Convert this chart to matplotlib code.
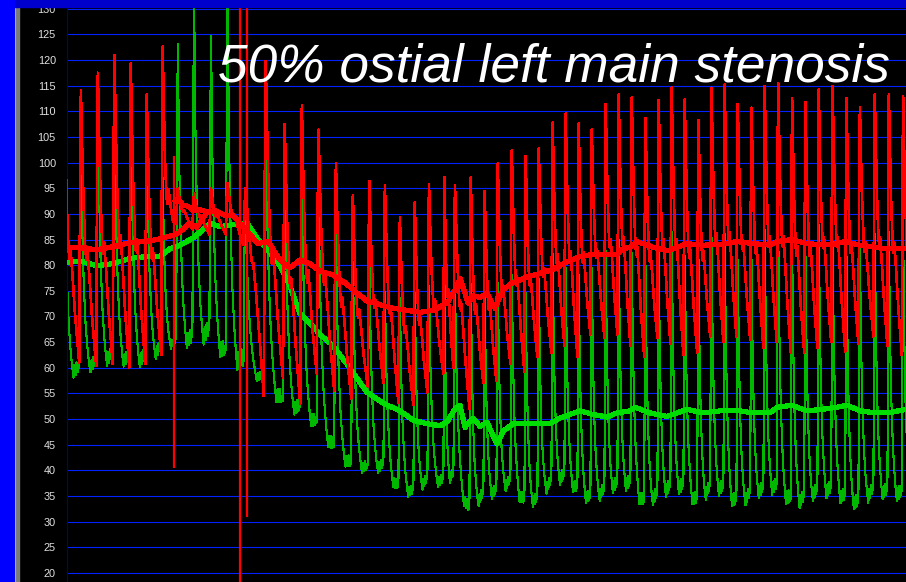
import numpy as np
import matplotlib.pyplot as plt
from matplotlib.patches import Rectangle

# systolic peak times (s) of every beat in the recording window
beat_t = [-0.15, 0.69, 1.54, 2.37, 3.19, 3.99, 4.79, 5.54, 6.35, 7.20,
          8.02, 8.90, 9.92, 10.88, 11.74, 12.57, 13.44, 14.29, 15.12, 15.90,
          16.65, 17.40, 18.10, 18.90, 19.40, 20.20, 20.90, 21.55, 22.25, 22.95,
          23.60, 24.30, 24.95, 25.60, 26.25, 26.95, 27.60, 28.25, 28.94, 29.60,
          30.25, 30.90, 31.59, 32.24, 32.90, 33.55, 34.24, 34.90, 35.57, 36.27,
          36.94, 37.60, 38.29, 38.99, 39.65, 40.40, 41.10, 41.82]

# aortic (guide) pressure, mmHg: peak per beat, trough at each beat onset (+ final trough)
aortic_sys = [115.0, 114.1, 117.5, 120.9, 119.3, 113.3, 122.6, 95.0, 94.0, 95.0,
              96.0, 95.0, 119.8, 107.5, 111.2, 106.4, 99.8, 93.7, 96.4, 95.5,
              89.3, 92.2, 95.8, 97.1, 95.5, 97.1, 94.4, 99.8, 102.4, 101.3,
              102.7, 107.8, 109.6, 107.6, 106.4, 111.4, 113.3, 112.7, 108.6, 112.2,
              114.6, 112.3, 108.2, 114.6, 115.2, 111.4, 110.7, 114.9, 115.4, 112.5,
              111.8, 114.3, 114.9, 112.5, 110.7, 113.3, 113.3, 112.9]
aortic_dia = [60.0, 61.0, 60.3, 60.7, 60.0, 60.7, 62.5, 88.0, 87.0, 86.0,
              86.0, 84.0, 54.5, 58.0, 53.0, 58.9, 55.6, 54.0, 56.3, 57.0,
              53.1, 52.7, 55.2, 58.9, 60.0, 52.0, 57.0, 57.4, 60.7, 59.2,
              62.1, 62.9, 64.3, 62.1, 66.5, 65.8, 66.5, 64.3, 62.1, 65.8,
              64.7, 62.5, 62.9, 66.1, 65.0, 66.1, 65.4, 63.9, 65.0, 62.9,
              62.9, 63.9, 65.0, 63.2, 64.7, 66.1, 64.3, 62.5, 64.0]

# distal (pressure wire) pressure, mmHg
distal_sys = [108.0, 105.0, 114.0, 110.7, 112.9, 108.2, 97.0, 123.2, 132.0, 124.7,
              132.0, 92.0, 109.3, 102.0, 98.4, 94.8, 86.4, 80.6, 81.0, 74.8,
              73.7, 74.5, 75.9, 77.0, 75.9, 76.3, 74.5, 76.6, 78.1, 74.5,
              77.4, 82.1, 79.5, 78.1, 79.5, 82.8, 85.0, 82.4, 79.9, 82.4,
              86.4, 81.7, 81.0, 85.3, 86.1, 81.0, 81.0, 86.9, 87.1, 83.9,
              81.7, 87.9, 84.6, 81.7, 83.5, 86.1, 86.4, 86.1]
distal_dia = [58.0, 58.1, 59.6, 60.7, 60.0, 60.3, 62.5, 64.3, 63.6, 65.0,
              60.7, 59.0, 56.7, 51.6, 50.5, 47.6, 42.9, 39.6, 39.3, 39.6,
              35.3, 34.6, 37.1, 36.7, 38.0, 30.6, 34.2, 34.6, 36.7, 32.4,
              33.1, 36.7, 37.5, 34.9, 33.1, 34.6, 36.0, 36.0, 32.0, 33.8,
              35.3, 35.3, 32.4, 35.3, 34.9, 32.0, 33.8, 34.9, 35.3, 32.4,
              32.8, 34.6, 34.6, 33.1, 32.0, 34.6, 34.2, 33.8, 34.0]

# mean pressures
mean_aortic_t = [0.00, 0.65, 1.50, 2.30, 3.15, 3.90, 4.50, 5.15, 5.45, 5.65,
                 6.15, 6.50, 7.00, 7.40, 7.90, 8.30, 8.65, 9.05, 9.55, 10.05,
                 10.65, 11.15, 11.65, 12.15, 12.65, 13.30, 14.00, 14.30, 15.00, 15.65,
                 16.30, 17.00, 17.65, 18.30, 19.00, 19.40, 19.65, 19.90, 20.05, 20.30,
                 20.65, 21.00, 21.40, 21.80, 22.30, 23.00, 23.65, 24.30, 25.00, 25.65,
                 26.30, 27.00, 27.50, 27.80, 28.15, 28.50, 29.30, 30.05, 31.00, 31.80,
                 32.65, 33.50, 34.30, 35.15, 35.50, 36.25, 37.00, 37.75, 38.25, 38.90,
                 39.65, 40.30, 40.90, 41.65, 41.95]
mean_aortic = [83.5, 83.4, 83.0, 83.6, 84.4, 84.6, 85.0, 85.7, 86.0, 86.5,
               88.2, 87.4, 90.4, 90.6, 89.7, 89.8, 88.2, 86.4, 84.2, 84.6,
               81.0, 79.5, 81.0, 80.3, 78.8, 78.1, 76.3, 75.2, 73.0, 72.3,
               71.6, 71.2, 70.8, 71.2, 72.6, 75.2, 77.4, 74.5, 72.6, 74.0,
               73.7, 74.5, 71.6, 75.2, 76.6, 77.7, 78.4, 79.2, 80.6, 81.7,
               82.1, 82.1, 82.1, 83.2, 83.5, 84.6, 83.5, 82.8, 84.2, 83.9,
               84.0, 84.6, 84.2, 83.9, 84.6, 85.0, 84.2, 84.0, 84.0, 84.6,
               83.9, 83.6, 83.2, 83.3, 83.2]
# second branch of the aortic mean after the flush
flush_t = [5.40, 5.55, 5.80, 6.05, 6.30, 6.65, 7.00]
flush_mean = [92.5, 93.0, 91.7, 91.5, 90.7, 90.8, 90.4]

mean_distal_t = [0.00, 0.65, 1.50, 2.30, 3.15, 4.00, 4.65, 5.15, 5.65, 6.30,
                 6.65, 7.15, 7.65, 8.30, 9.00, 9.50, 10.00, 10.65, 11.15, 11.65,
                 12.15, 12.65, 13.30, 14.00, 14.40, 15.00, 15.80, 16.65, 17.30, 18.00,
                 18.65, 19.00, 19.40, 19.65, 19.90, 20.30, 20.65, 21.00, 21.50, 21.80,
                 22.30, 23.00, 23.65, 24.15, 24.65, 25.15, 25.65, 26.30, 27.00, 27.50,
                 28.15, 28.40, 29.15, 30.00, 31.00, 31.80, 32.65, 33.50, 34.30, 35.15,
                 35.50, 36.25, 37.00, 37.75, 38.50, 39.00, 39.65, 40.40, 41.05, 41.95]
mean_distal = [80.5, 80.8, 79.9, 80.3, 81.3, 81.7, 81.7, 83.2, 83.9, 85.3,
               86.4, 88.2, 87.5, 87.9, 88.2, 85.3, 83.2, 79.9, 75.9, 70.5,
               68.7, 66.5, 64.3, 60.7, 58.5, 55.2, 53.1, 51.6, 49.8, 49.1,
               48.7, 49.4, 52.0, 52.7, 48.4, 50.2, 48.6, 49.4, 45.1, 47.6,
               49.1, 49.1, 49.1, 49.1, 50.2, 50.9, 51.6, 50.9, 50.4, 51.2,
               51.6, 52.3, 51.2, 50.5, 51.9, 51.2, 51.6, 51.7, 51.2, 51.2,
               52.3, 52.7, 51.6, 51.9, 52.3, 52.7, 51.6, 51.2, 51.2, 51.9]

# catheter flush / whip artefacts on the aortic channel
artifact_t = [5.37, 8.65, 8.99]
artifact_lo = [40.4, 18.0, 31.0]
artifact_hi = [101.3, 132.0, 132.0]

# normalised single-beat shapes (0 = trough, 1 = peak)
aortic_phase = [0.0, 0.06, 0.10, 0.17, 0.26, 0.36, 0.42, 0.48, 0.60, 0.75, 0.90, 1.0]
aortic_shape = [0.0, 0.75, 1.00, 0.80, 0.58, 0.42, 0.38, 0.42, 0.32, 0.18, 0.07, 0.0]
distal_phase = [0.0, 0.05, 0.10, 0.18, 0.27, 0.37, 0.47, 0.57, 0.66, 0.72, 0.78, 0.84, 0.90, 0.95, 1.0]
distal_shape = [0.04, 0.70, 1.00, 0.62, 0.38, 0.22, 0.12, 0.05, 0.00, 0.05, 0.01, 0.06, 0.02, 0.04, 0.04]


def pulse_trace(peaks, sys_vals, dia_vals, phase, shape):
    peaks = np.asarray(peaks)
    onsets = np.append(peaks - 0.08, peaks[-1] + 0.6)
    ph = np.asarray(phase[:-1])
    sh = np.asarray(shape[:-1])
    ts, vs = [], []
    for i in range(len(peaks)):
        base = dia_vals[i] + (dia_vals[i + 1] - dia_vals[i]) * ph
        ts.append(onsets[i] + (onsets[i + 1] - onsets[i]) * ph)
        vs.append(base + (sys_vals[i] - base) * sh)
    return np.concatenate(ts), np.concatenate(vs)


W, H = 906, 582
fig = plt.figure(figsize=(W / 100, H / 100), dpi=100, facecolor='black')
ax = fig.add_axes([67 / W, 0, 1 - 67 / W, 1])
ax.set_facecolor('black')

t_a, p_a = pulse_trace(beat_t, aortic_sys, aortic_dia, aortic_phase, aortic_shape)
t_d, p_d = pulse_trace(beat_t, distal_sys, distal_dia, distal_phase, distal_shape)

ax.plot(t_d, p_d, color='#00b800', lw=0.8, antialiased=False, zorder=2)
ax.plot(mean_distal_t, mean_distal, color='#00dd00', lw=3.0, antialiased=False, zorder=3)
ax.plot(t_a, p_a, color='#ff0000', lw=1.2, antialiased=False, zorder=4)
ax.vlines(artifact_t, artifact_lo, artifact_hi, color='#ff0000', lw=1.6, zorder=4)
ax.plot(flush_t, flush_mean, color='#ff0000', lw=3.0, antialiased=False, zorder=5)
ax.plot(mean_aortic_t, mean_aortic, color='#ff0000', lw=3.0, antialiased=False, zorder=5)

ax.set_xlim(0, 41.95)
ax.set_ylim(18.24, 131.69)
ax.set_xticks([])
ax.set_yticks(range(20, 131, 5))
ax.tick_params(axis='y', length=0, pad=8, labelsize=7.8, labelcolor='#e0e0e0')
for lab in ax.get_yticklabels():
    lab.set_fontfamily('Liberation Sans')
ax.set_axisbelow(True)
ax.grid(axis='y', color='#0022ff', lw=0.8)
for side in ['top', 'right', 'bottom']:
    ax.spines[side].set_visible(False)
ax.spines['left'].set_color('#000080')
ax.spines['left'].set_linewidth(0.8)

# window frame: blue border, grey bevel, blue title strip
fig.add_artist(Rectangle((14 / W, 0), 2 / W, 1, transform=fig.transFigure,
                         color='#e4e4e4', zorder=10))
fig.add_artist(Rectangle((16 / W, 0), 3 / W, 1, transform=fig.transFigure,
                         color='#7a7a7a', zorder=10))
fig.add_artist(Rectangle((0, 1 - 7 / H), 1, 7 / H, transform=fig.transFigure,
                         color='#0000cc', zorder=10))
fig.add_artist(Rectangle((0, 0), 14 / W, 1, transform=fig.transFigure,
                         color='#0000ff', zorder=11))

fig.text(218 / W, 1 - 82 / H, '50% ostial left main stenosis', color='white',
         fontsize=38.3, style='italic', family='Liberation Sans',
         ha='left', va='baseline', zorder=6)

fig.savefig('out.png', dpi=100, facecolor=fig.get_facecolor())
